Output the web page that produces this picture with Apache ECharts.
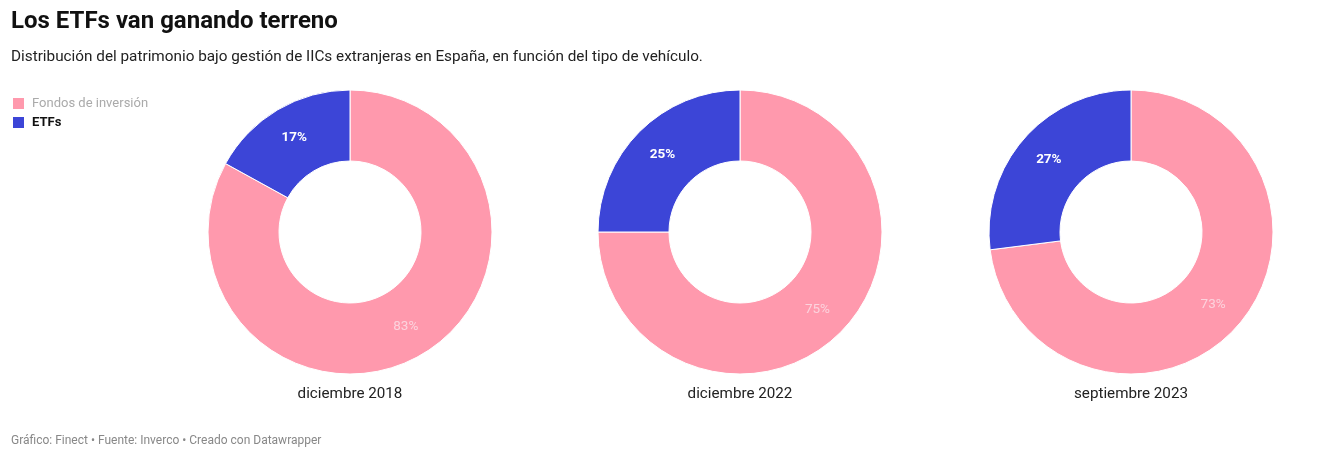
<!DOCTYPE html>
<html><head><meta charset="utf-8">
<script src="https://cdn.jsdelivr.net/npm/echarts@6/dist/echarts.min.js"></script>
<style>html,body{margin:0;padding:0;background:#fff}#c{width:1332px;height:460px}</style>
</head><body><div id="c"></div>
<script>
const periods = ['diciembre 2018', 'diciembre 2022', 'septiembre 2023'];
const categories = ['Fondos de inversión', 'ETFs'];
const fondos = [83, 75, 73];
const etfs = [17, 25, 27];
const centersX = [350, 740, 1131];

const FONT = 'Roboto, "Noto Sans", sans-serif';
const colors = ['#ff99ad', '#3c45d7'];

const series = periods.map((p, i) => ({
  type: 'pie',
  name: p,
  center: [centersX[i], 232],
  radius: [71, 142],
  startAngle: 90,
  clockwise: true,
  avoidLabelOverlap: false,
  emphasis: { disabled: true },
  itemStyle: { borderColor: '#fff', borderWidth: 1 },
  label: { show: true, position: 'inside', formatter: '{c}%', fontFamily: FONT, fontSize: 13.5 },
  labelLine: { show: false },
  data: [
    { name: categories[0], value: fondos[i], itemStyle: { color: colors[0] },
      label: { color: '#fcd3dd', fontWeight: 'normal' } },
    { name: categories[1], value: etfs[i], itemStyle: { color: colors[1] },
      label: { color: '#ffffff', fontWeight: 'bold' } }
  ]
}));

const graphics = [
  { type: 'text', left: 11, top: 10, style: { text: 'Los ETFs van ganando terreno', font: 'bold 24px ' + FONT, fill: '#111' } },
  { type: 'text', left: 11, top: 50, style: { text: 'Distribución del patrimonio bajo gestión de IICs extranjeras en España, en función del tipo de vehículo.', font: '15.3px ' + FONT, fill: '#222' } },
  { type: 'text', left: 11, top: 435, style: { text: 'Gráfico: Finect • Fuente: Inverco • Creado con Datawrapper', font: '12px ' + FONT, fill: '#888' } }
];
periods.forEach((p, i) => {
  graphics.push({ type: 'text', x: centersX[i], y: 394, style: { text: p, font: '15.2px ' + FONT, fill: '#222', align: 'center', verticalAlign: 'middle' } });
});

const chart = echarts.init(document.getElementById('c'), null, { renderer: 'canvas' });
chart.setOption({
  animation: false,
  color: colors,
  legend: {
    orient: 'vertical', left: 11, top: 96, padding: 0,
    itemWidth: 13, itemHeight: 13, itemGap: 4, icon: 'rect',
    selectedMode: false,
    data: [
      { name: categories[0], textStyle: { color: '#aaaaaa', fontWeight: 'normal' } },
      { name: categories[1], textStyle: { color: '#111', fontWeight: 'bold' } }
    ],
    textStyle: { fontFamily: FONT, fontSize: 13, padding: [0, 0, 0, 2] }
  },
  graphic: graphics,
  series: series
});
</script></body></html>
